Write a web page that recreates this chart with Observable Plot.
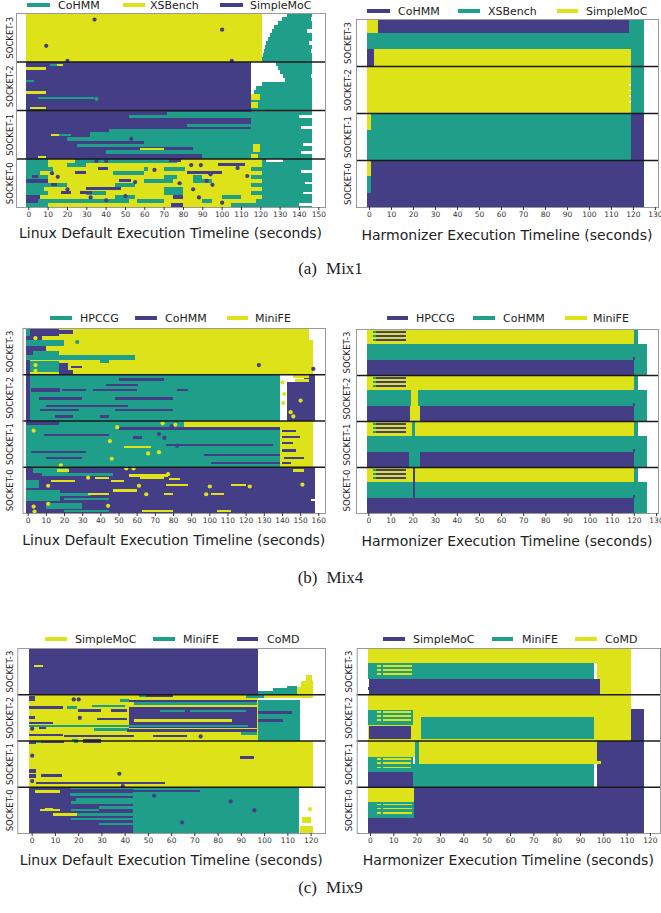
<!DOCTYPE html>
<html>
<head>
<meta charset="utf-8">
<script src="https://cdn.jsdelivr.net/npm/d3@7"></script>
<script src="https://cdn.jsdelivr.net/npm/@observablehq/plot@0.6"></script>
<style>
html,body{margin:0;padding:0;background:#fff;}
#fig{position:relative;width:661px;height:913px;overflow:hidden;background:#fff;font-family:"DejaVu Sans",sans-serif;color:#222;}
.abs{position:absolute;white-space:nowrap;}
.cap{font-family:"Liberation Serif","Times New Roman",serif;font-size:17px;line-height:1;}
</style>
</head>
<body>
<div id="fig"></div>
<script>
// ---------- categories / tick labels ----------
const socketLabels = ["SOCKET-0","SOCKET-1","SOCKET-2","SOCKET-3"];
const mix1LinuxApps = ["CoHMM","XSBench","SimpleMoC"];
const mix1HarmApps  = ["CoHMM","XSBench","SimpleMoC"];
const mix4LinuxApps = ["HPCCG","CoHMM","MiniFE"];
const mix4HarmApps  = ["HPCCG","CoHMM","MiniFE"];
const mix9LinuxApps = ["SimpleMoC","MiniFE","CoMD"];
const mix9HarmApps  = ["SimpleMoC","MiniFE","CoMD"];
const mix1LinuxTicks = [0,10,20,30,40,50,60,70,80,90,100,110,120,130,140,150];
const mix1HarmTicks  = [0,10,20,30,40,50,60,70,80,90,100,110,120,130];
const mix4LinuxTicks = [0,10,20,30,40,50,60,70,80,90,100,110,120,130,140,150,160];
const mix4HarmTicks  = [0,10,20,30,40,50,60,70,80,90,100,110,120,130];
const mix9LinuxTicks = [0,10,20,30,40,50,60,70,80,90,100,110,120];
const mix9HarmTicks  = [0,10,20,30,40,50,60,70,80,90,100,110,120];

// ---------- series: [core from, core to, t start, t end, app index (3 = idle)] ----------
const mix1LinuxSegs = [
 [36,48,-1,121,1],
 [36,37,121,147,0],[37,38,121.5,147,0],[38,39,122,146,0],[39,40,122.5,147,0],[40,41,123,145,0],[41,42,124,147,0],
 [42,43,125,147,0],[43,44,126,144,0],[44,45,127,147,0],[45,46,129,147,0],[46,47,131,146,0],[47,48,134,147,0],
 [24,36,-1,115,2],
 [34.8,35.4,11,15,0],[34.8,35.4,15,18,1],[34,34.6,-1,9,1],[31,31.5,-1,3,0],[28,28.6,-1,9,1],[26.6,27.2,5,34,0],[24.2,24.8,1,9,1],
 [35,36,128,147,0],[34,35,129,147,0],[33,34,130,147,0],[32,33,132,146,0],[31,32,133,147,0],[30,31,121,147,0],
 [29,30,118,147,0],[28,29,117,147,0],[24,28,115,147,0],
 [26.5,28,115,120,1],[24.5,26,115,119,1],
 [12,24,-1,115,2],[12,24,115,147,0],
 [22.8,23.5,72,115,0],[22,22.8,52,115,0],[19.8,20.5,82,115,0],[18.5,19.3,42,115,0],[17.2,18.5,32,115,0],[16.4,17.2,20,115,0],
 [15.6,16.4,60,115,0],[14.8,15.6,25,115,0],[14,14.8,85,115,0],[13.2,14,40,115,0],[12,13.2,90,115,0],
 [14.2,14.7,58,70,1],[17.6,18.1,12,16,1],[17.6,18.1,16,22,0],[12.2,12.7,5,9,1],
 [13.5,15.5,116,120,1],[12.2,13.2,115,119,1],
 [22,22.7,140,148,3],[19.3,20,141,148,3],[15.2,15.8,142,148,3],[13.2,13.8,141,148,3],
 [11,12,-1,121,0],[11,12,10,24,1],[11,12,77,121,1],[11.1,11.9,73,79,2],
 [10,11,-1,121,1],[10,11,-1,10,0],[10,11,20,30,0],[10.1,10.9,98,112,2],
 [9,10,-1,121,0],[9,10,13,60,1],[9.1,9.9,36,41,2],[9,10,62,70,1],[9,10,81,115,1],
 [8,9,-1,121,1],[8,9,-1,6,0],[8.1,8.9,24,30,2],[8,9,44,60,0],[8.1,8.9,82,100,2],
 [7,8,-1,121,0],[7,8,10,70,1],[7,8,77,85,1],[7,8,90,115,1],[7.1,7.9,2,5,2],
 [6,7,-1,121,1],[6,7,-1,10,2],[6.1,6.9,47,53,2],[6,7,60,75,0],[6,7,85,95,0],
 [5,6,-1,121,0],[5,6,20,45,1],[5,6,55,115,1],[5.1,5.9,12,15,2],
 [4,5,-1,121,1],[4,5,-1,8,0],[4.1,4.9,30,48,2],[4,5,70,80,0],
 [3,4,-1,121,0],[3,4,10,30,1],[3,4,40,70,1],[3,4,80,115,1],[3.1,3.9,17,22,2],[3.1,3.9,27,33,2],
 [2,3,-1,121,1],[2.1,2.9,-1,6,2],[2,3,45,55,0],[2.1,2.9,75,80,2],[2,3,100,110,0],
 [1,2,-1,121,0],[1.1,1.9,-1,5,2],[1,2,52,56,1],[1,2,70,90,1],[1,2,95,118,1],
 [0,1,-1,121,1],[0,1,-1,10,0],[0.1,0.9,74,80,2],[0,1,105,121,0],
 [0,12,121,147,0],
 [11.2,11.8,123,132,3],[8.5,9.1,141,148,3],[5.7,6.3,143,148,3],[3.2,3.8,142,148,3],[0.3,0.9,140,148,3]
];
const mix1LinuxDots = [
 [34,46.5,2],[9,40,2],[100,44,2],[20,36.3,2],[105,36.3,2],[53,17,2],[35,26.9,0],
 [35,11.5,2],[40,11.5,2],[84,10.5,2],[89,10.5,2],[12,8.5,2],[15,7.6,2],[20,4.5,2],[32,2.5,2],[40,1.8,2],
 [50,2.8,2],[55,6.3,2],[65,9.3,2],[85,4.5,2],[88,2.5,2],[92,6.6,2],[95,5.6,2],[100,1.2,2],[108,9.8,2],
 [113,7.8,2],[76,0.5,2],[78,6,2],[94,8.2,2]
];
const mix1HarmSegs = [
 [44.3,48,-0.8,4,2],[44.3,48,4,118,0],[44.3,48,118,125,1],
 [40.3,44.3,-0.8,125,1],
 [36,40.3,-0.8,2.5,0],[36,40.3,2.5,119,2],[36,40.3,119,125,1],
 [24,36,-0.8,119,2],[24,36,119,125,1],
 [26.5,27,118,119.3,3],[28,28.5,118,119.3,3],[29.5,30,118,119.3,3],[31,31.5,118.3,119.3,3],
 [12,24,-0.8,119,1],[19.7,24,-0.8,1,2],[12,24,119,125,0],
 [0,12,-0.8,125,0],[8,12,-0.8,1,2],[3.6,8,-0.8,1,1]
];
const mix1HarmDots = [];

const mix4LinuxSegs = [
 [36,48,-1,157,2],
 [46,48,-1,1.5,0],[46,48,1.5,17,1],[46.4,47.6,17,25,1],[45,46,-1,8,1],[43.4,45,-1,20,0],[42,43.4,-1,10,1],
 [41,42,-1,3,1],[41,42,3,17,0],[39.7,41,-1,59,0],[39,39.7,40,45,0],[36,39.7,-1,1,1],[36.5,39.5,1,17,0],
 [37.2,38.8,17,22,1],[37.5,38.2,24,30,1],[36,37,17,25,1],[45,48,155,157,3],
 [24,36,-1,139,0],[24,36,-1,1.5,1],
 [34.2,34.9,50,75,1],[32.9,33.6,43,61,1],[31.3,32.4,2,18,1],[31.6,32.2,19,32,1],[31.6,32.2,36,60,1],[31.6,32.2,82,88,1],
 [29.4,30,6,30,1],[29.4,30,48,80,1],[27.5,28.1,10,55,1],[26.4,27,7,28,1],[26.4,27,48,80,1],[24.7,25.3,15,25,1],[24.7,25.3,40,45,1],
 [24,33.9,143,158,1],[33.9,36,152,158,1],[35,35.8,146,155,2],[33.9,34.7,147,155,2],
 [12,24,-1,139,0],[12,24,139,157,2],[22.3,24,86,139,2],[22.8,24,-1,17,1],
 [21.6,22.2,50,139,1],[19.9,20.5,9,45,1],[19.3,19.9,58,63,1],[17.3,17.9,76,135,1],[16.8,17.4,53,68,2],
 [15.6,16.2,2,32,1],[14.8,15.4,97,139,1],[13.9,14.5,10,30,1],[12.6,13.2,101,139,1],
 [21,21.6,140,148,1],[19.5,20.1,140,150,1],[17.8,18.4,140,146,1],[15.9,16.5,140,148,1],[14,14.6,141,152,1],[12.6,13.2,140,145,1],
 [0,12,-1,158,1],
 [10.5,11.6,3,22,0],[9.6,10.3,8,47,0],[6.5,8.5,-1,6,0],[3,6,-1,18,0],[4.5,5.2,18,35,0],[3.5,4,20,45,0],[1,2.5,10,30,0],[0.2,0.8,20,45,0],
 [10.6,11.3,16,23,2],[9.4,10,56,77,2],[8.8,9.4,37,45,2],[8.8,9.4,62,75,2],[8.6,9.2,78,84,2],[8,8.6,13,26,2],[8,8.6,46,53,2],
 [6.9,7.5,76,88,2],[6.9,7.5,112,120,2],[5.5,6.1,47,60,2],[4.6,5.2,33,45,2],[4.6,5.2,75,80,2],[4.6,5.2,101,108,2],
 [0.2,0.8,63,80,2],[0.2,0.8,104,112,2],[10.6,11.3,146,152,2],[3,3.6,156,158,3]
];
const mix4LinuxDots = [
 [4,45.5,2],[4,38.5,2],[4,37,2],[27,44.5,0],[127,38.5,1],[157,37.5,1],
 [140,34,2],[141,31,2],[140.5,28.7,2],[144.5,26.3,2],[150,29.3,2],[146,25.2,2],
 [3,21.5,2],[49,22.4,2],[74,23.4,2],[81,23,2],[45,18.8,2],[66,15.6,2],[72,15.9,2],[46,14.2,2],[18,12.5,2],
 [79,22.6,1],[72,20.6,1],[75,19.6,1],[82,17.6,1],
 [54,11.7,2],[58,11.7,2],[77,10.2,2],[33,9.3,2],[11,7.2,2],[61,7.2,2],[100,7,2],[122,7,2],[65,5,2],[98,5,2],
 [3,1.8,2],[3.5,0.5,2],[11,2.5,2],[44,2,2],[151,7.5,2]
];
const mix4HarmSegs = [
 [44,48,-0.8,120,2],[44,48,120,121.8,1],
 [47,47.5,2,3.5,1],[47,47.5,3.5,17,0],[46,46.5,2,3.5,1],[46,46.5,3.5,17,0],[45,45.5,2,3.5,1],[45,45.5,3.5,17,0],
 [40,44,-0.8,126,1],
 [36,40,-0.8,120,0],[36,40,120,126,1],[40,40.8,119.8,120.6,0],
 [32,36,-0.8,120,2],[32,36,120,121.8,1],
 [35,35.5,2,3.5,1],[35,35.5,3.5,17,0],[34,34.5,2,3.5,1],[34,34.5,3.5,17,0],[33,33.5,2,3.5,1],[33,33.5,3.5,17,0],
 [28,32,-0.8,126,1],[28,32,19.5,22.5,2],
 [24,28,-0.8,120,0],[24,28,19,23.5,2],[24,28,120,126,1],[28,28.8,119.8,120.6,0],
 [20,24,-0.8,120,2],[20,24,120,121.8,1],
 [23,23.5,2,3.5,1],[23,23.5,3.5,17,0],[22,22.5,2,3.5,1],[22,22.5,3.5,17,0],[21,21.5,2,3.5,1],[21,21.5,3.5,17,0],
 [20,24,19.8,21.2,1],
 [16,20,-0.8,126,1],
 [12,16,-0.8,120,0],[12,16,18.3,23.3,1],[12,16,120,126,1],[16,16.8,119.8,120.6,0],
 [8,12,-0.8,120,2],[8,12,120,121.8,1],
 [11,11.5,2,3.5,1],[11,11.5,3.5,17,0],[10,10.5,2,3.5,1],[10,10.5,3.5,17,0],[9,9.5,2,3.5,1],[9,9.5,3.5,17,0],
 [4,8,-0.8,126,1],
 [4,12,20,21.2,0],
 [0,4,-0.8,120,0],[0,4,120,126,1],[4,4.8,119.8,120.6,0]
];
const mix4HarmDots = [];

const mix9LinuxSegs = [
 [36,48,-1,97.5,2],[43,43.5,1,5,0],
 [36,36.8,97.5,114,1],[36.8,37.6,104,114,1],[37.6,38.2,110,114,1],
 [36,38,114,121,0],[38,39.5,116,121,0],[39.5,41,118,120.5,0],
 [24,36,-1,97.5,0],
 [35.2,36,46,49,1],[35.2,36,49,61,2],
 [35,36,97.5,121,0],[35,36,92,100,1],[34.5,34.9,97.5,121,3],[24,34.5,97.5,115.5,1],
 [34.3,35.6,-1,1.5,2],[34,34.8,38,42,1],[34,34.6,42,97,2],[33.3,34,44,97,1],
 [32.2,32.9,-1,13.6,2],[32.2,32.9,15,19.3,1],[32.6,33.3,26,40,1],
 [27.2,32.8,42,97,2],[31.3,31.8,55,66,1],[31.3,31.8,68,92,1],[28.8,29.6,44,86,0],
 [31.5,32.1,20,30,2],[31.5,32.1,34,41,2],[29.7,30.3,-1,1.5,2],[29.2,29.8,28,41,2],[28.2,28.8,-1,9.3,2],
 [27.6,28,-1,93,1],[26.9,27.5,3,6,2],[26.5,27.2,27,42,1],[26.3,26.9,41,97,2],
 [25.2,25.8,-1,13.6,2],[24.9,25.4,14,44,2],[24.9,25.5,52,67,2],[25.5,26.1,90,97,1],
 [24,24.5,17.5,20,1],[24,24.5,22,30,2],
 [31,31.6,97.5,112,2],[28.9,29.5,97.5,108,2],
 [12,24,-1,121,0],
 [23.2,23.9,-1,2,2],[23.3,23.9,2,4,1],[23.3,23.9,4,14,2],[23.3,23.9,18,20,1],[23.3,23.9,22,30,2],
 [19.3,19.9,89.5,95.5,2],[15.6,16.6,-1,2,2],[14.6,15.2,4,13,2],[14.4,15.2,-1,2,2],[12.6,13.2,2,57.3,2],
 [0,12,-1,43.5,2],[0,12,43.5,115,1],
 [11.3,12,17,72.5,1],[10.6,11.2,17,72.5,2],[10.3,11.2,1.5,12.3,0],
 [9.7,10.3,16.5,43.5,1],[8.4,9,19,43.5,1],[7.6,8.2,17,43.5,1],[6.3,6.9,29,43.5,1],
 [5.7,6.3,3.6,12.2,0],[5.7,6.6,5.6,9.3,0],[5.7,6.3,17,29,1],
 [4.5,5.1,9.3,19.3,0],[4.5,5.1,19.3,43.5,1],[3.4,4,17,43.5,1],[2.1,2.7,29,43.5,1],
 [0,1.8,115.5,121,0],[2.5,4.2,116.5,120,0]
];
const mix9LinuxDots = [
 [17.9,34.8,2],[20,34.8,2],[20.5,30,2],[0,27.2,2],[72.5,25.2,2],
 [0,20.2,2],[37.5,15.5,2],[0,13.6,2],[39,12.3,2],
 [52.5,9.8,2],[85.4,8.3,2],[95.6,6,2],[64.5,2.9,2],[119.5,6.3,0]
];
const mix9HarmSegs = [
 [44,48,-0.8,112,2],
 [40,44,-0.8,96,1],[40,44,97.5,112,2],
 [43.2,43.65,3.2,4.6,2],[43.2,43.65,5.5,18,2],[42.1,42.55,3.2,4.6,2],[42.1,42.55,5.5,18,2],[41,41.45,3.2,4.6,2],[41,41.45,5.5,18,2],
 [36,40,-0.5,98.5,0],[36,40,98.5,112,2],[37,37.8,-1,-0.5,0],
 [24,36,-0.8,112,2],
 [28,32,-0.8,18.5,1],
 [31.2,31.65,3.2,4.6,2],[31.2,31.65,5.5,17.5,2],[30.1,30.55,3.2,4.6,2],[30.1,30.55,5.5,17.5,2],[29,29.45,3.2,4.6,2],[29,29.45,5.5,17.5,2],
 [24.5,30.1,22,96,1],[24.5,27.8,-0.5,17.5,0],[24,32.2,112,117.5,0],
 [19.8,24,-0.8,19.5,2],[17.9,24,19.5,21,1],[17.9,24,21,97.5,2],
 [15.9,19.8,-0.8,18.5,1],
 [19,19.45,3.2,4.6,2],[19,19.45,5.5,17.5,2],[17.9,18.35,3.2,4.6,2],[17.9,18.35,5.5,17.5,2],[16.8,17.25,3.2,4.6,2],[16.8,17.25,5.5,17.5,2],
 [12,17.9,18.5,96,1],[12,15.9,-0.8,18.3,0],[12,24,97.5,117.5,0],[18,18.6,97.5,99,2],
 [8,12,-0.8,19,2],
 [4,8,-0.8,19,1],
 [7.2,7.65,3.2,4.6,2],[7.2,7.65,5.5,18,2],[6.1,6.55,3.2,4.6,2],[6.1,6.55,5.5,18,2],[5,5.45,3.2,4.6,2],[5,5.45,5.5,18,2],
 [0,4,-0.8,19,0],[0,12,19,117.5,0]
];
const mix9HarmDots = [];

// ---------- styling / layout ----------
const BLUE = "#433e85", TEAL = "#1f9e89", YEL = "#dde318";
const panels = [
 {apps: mix1LinuxApps, colors:[TEAL,YEL,BLUE], segs: mix1LinuxSegs, dots: mix1LinuxDots, ticks: mix1LinuxTicks,
  xdom:[-6.36,153.47], frame:[16,325,13,207], left:0, width:330, sockDx:-6,
  title:"Linux Default Execution Timeline (seconds)", titleY:233, legY:5, leg:[[27,50,58],[123,145,150],[220,243,250]]},
 {apps: mix1HarmApps, colors:[BLUE,TEAL,YEL], segs: mix1HarmSegs, dots: mix1HarmDots, ticks: mix1HarmTicks,
  xdom:[-5.9,131.4], frame:[356,658,19,207], left:330, width:331, sockDx:-8,
  title:"Harmonizer Execution Timeline (seconds)", titleY:235, legY:11, leg:[[367,390,398],[458,480,488],[557,578,586]]},
 {apps: mix4LinuxApps, colors:[TEAL,BLUE,YEL], segs: mix4LinuxSegs, dots: mix4LinuxDots, ticks: mix4LinuxTicks,
  xdom:[-2.86,163.7], frame:[22.5,325,328,513], left:0, width:330, sockDx:-13,
  title:"Linux Default Execution Timeline (seconds)", titleY:540, legY:318, leg:[[50,72,80],[135,157,165],[227,248,255]]},
 {apps: mix4HarmApps, colors:[BLUE,TEAL,YEL], segs: mix4HarmSegs, dots: mix4HarmDots, ticks: mix4HarmTicks,
  xdom:[-5.56,130.9], frame:[356,658,329,513], left:330, width:331, sockDx:-9,
  title:"Harmonizer Execution Timeline (seconds)", titleY:541, legY:318, leg:[[387,408,416],[473,495,503],[565,587,593]]},
 {apps: mix9LinuxApps, colors:[YEL,TEAL,BLUE], segs: mix9LinuxSegs, dots: mix9LinuxDots, ticks: mix9LinuxTicks,
  xdom:[-6.19,126.2], frame:[17.3,325,648,833], left:0, width:330, sockDx:-7.3,
  title:"Linux Default Execution Timeline (seconds)", titleY:860, legY:639, leg:[[45,67,75],[153,175,183],[237,258,267]]},
 {apps: mix9HarmApps, colors:[BLUE,TEAL,YEL], segs: mix9HarmSegs, dots: mix9HarmDots, ticks: mix9HarmTicks,
  xdom:[-5.7,124.3], frame:[356.7,660,648,833], left:330, width:331, sockDx:-8.4,
  title:"Harmonizer Execution Timeline (seconds)", titleY:860, legY:639, leg:[[383,405,413],[492,513,522],[575,597,605]]}
];
const captions = [["(a)","Mix1",268],["(b)","Mix4",577],["(c)","Mix9",887]];

const fig = document.getElementById("fig");
function addDiv(html, css, cls){
  const d = document.createElement("div");
  d.className = "abs" + (cls ? " " + cls : "");
  d.innerHTML = html;
  Object.assign(d.style, css);
  fig.appendChild(d);
  return d;
}

for (const p of panels) {
  const [fx1, fx2, fy1, fy2] = p.frame;
  const top = fy1 - 6;
  const height = (fy2 - fy1) + 6 + 26;
  const svg = Plot.plot({
    width: p.width, height,
    marginLeft: fx1 - p.left, marginRight: p.left + p.width - fx2,
    marginTop: fy1 - top, marginBottom: top + height - fy2,
    x: {domain: p.xdom},
    y: {domain: [0, 48], axis: null},
    color: {type: "ordinal", domain: [0,1,2,3], range: [...p.colors, "#ffffff"]},
    style: {fontFamily: "DejaVu Sans", background: "transparent", overflow: "visible"},
    marks: [
      Plot.rect(p.segs, {y1: d => d[0], y2: d => d[1], x1: d => d[2], x2: d => d[3], fill: d => d[4], shapeRendering: "crispEdges"}),
      Plot.dot(p.dots, {x: d => d[0], y: d => d[1], fill: d => d[2], r: 2.1}),
      Plot.ruleY([12, 24, 36], {stroke: "#1a1a1a", strokeWidth: 1.3}),
      Plot.frame({stroke: "#9a9a9a"}),
      Plot.axisX({ticks: p.ticks, tickSize: 3, tickPadding: 1.5, fontSize: 7.5, label: null, color: "#333", tickFormat: d => String(d)}),
      Plot.text(socketLabels, {y: (s, i) => 12 * i + 6, text: s => s, frameAnchor: "left", textAnchor: "middle", lineAnchor: "middle", rotate: -90, dx: p.sockDx, fontSize: 8.5, fill: "#222"})
    ]
  });
  svg.style.position = "absolute";
  svg.style.left = p.left + "px";
  svg.style.top = top + "px";
  fig.appendChild(svg);

  // axis title
  const cx = (fx1 + fx2) / 2;
  addDiv(p.title, {left: (cx - 200) + "px", width: "400px", textAlign: "center", top: (p.titleY - 7) + "px", fontSize: "14px", lineHeight: "14px"});
  // legend
  p.leg.forEach(([a, b, tx], i) => {
    addDiv("", {left: a + "px", width: (b - a) + "px", top: (p.legY - 1.75) + "px", height: "3.5px", background: p.colors[i]});
    addDiv(p.apps[i], {left: tx + "px", top: (p.legY - 5.3) + "px", fontSize: "11px", lineHeight: "11px"});
  });
}
for (const [lab, name, cy] of captions) {
  addDiv('<span>' + lab + '</span><span style="margin-left:9px">' + name + '</span>',
    {left: "230px", width: "201px", textAlign: "center", top: (cy - 8) + "px"}, "cap");
}
</script>
</body>
</html>
